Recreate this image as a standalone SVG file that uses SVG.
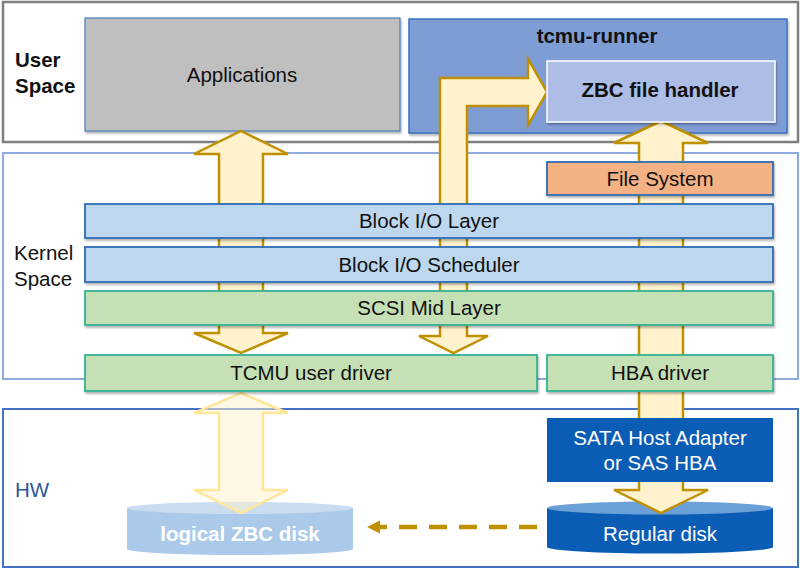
<svg xmlns="http://www.w3.org/2000/svg" width="800" height="570" viewBox="0 0 800 570">
<defs>
<filter id="sh" x="-5%" y="-20%" width="110%" height="150%">
<feDropShadow dx="1" dy="2" stdDeviation="1.2" flood-color="#000" flood-opacity="0.3"/>
</filter>
</defs>
<style>
text{font-family:"Liberation Sans",Arial,Helvetica,sans-serif;font-size:20.5px;fill:#111}
.b{font-weight:bold}
.c{text-anchor:middle}
.w{fill:#fff}
.arrow{fill:#fff2cc;stroke:#bf9000;stroke-width:2.5;stroke-linejoin:miter}
.pale{fill:#fff2cc;fill-opacity:0.5;stroke:#ffe699;stroke-width:2.5}
.blk{fill:#bdd7ee;stroke:#2e6db5;stroke-width:1.8}
.grn{fill:#c5e0b4;stroke:#33b394;stroke-width:1.8}
</style>
<rect x="0" y="0" width="800" height="570" fill="#fff"/>

<g id="user-space">
<rect x="3" y="2" width="795" height="140" fill="#fff" stroke="#7f7f7f" stroke-width="2.5"/>
<text class="b" x="15" y="67">User</text>
<text class="b" x="15" y="93">Space</text>
</g>
<g id="applications">
<rect x="85" y="18" width="315" height="113" fill="#bfbfbf" stroke="#4a7ebb" stroke-width="1.2" filter="url(#sh)"/>
<text class="c" x="242" y="82">Applications</text>
</g>
<g id="tcmu-runner">
<rect x="409" y="19" width="378" height="114" fill="#7f9dd5" stroke="#3a70c0" stroke-width="1.5" filter="url(#sh)"/>
<text class="b c" x="597" y="43">tcmu-runner</text>
</g>

<g id="kernel-space">
<rect x="3" y="153" width="795" height="226" fill="none" stroke="#8faadc" stroke-width="2"/>
<text x="14" y="260">Kernel</text>
<text x="14" y="286">Space</text>
</g>

<g id="hw">
<rect x="3" y="409" width="795" height="158" fill="none" stroke="#4472c4" stroke-width="2"/>
<text x="15" y="497" style="fill:#2f5597">HW</text>
</g>

<g id="logical-zbc-disk">
<path d="M127,508 L127,549 A113,6 0 0 0 353,549 L353,508 Z" fill="#abc9e8"/>
<ellipse cx="240" cy="508" rx="113" ry="6" fill="#c9dcf0"/>
<text class="b c w" x="240" y="541">logical ZBC disk</text>
</g>
<g id="regular-disk">
<path d="M547,508 L547,547 A113,6.5 0 0 0 773,547 L773,508 Z" fill="#0b5cb5"/>
<ellipse cx="660" cy="508" rx="113" ry="6.5" fill="#6a9fd8"/>
<text class="c w" x="660" y="541">Regular disk</text>
</g>

<g id="connectors">
<polygon class="arrow" points="241,131 288,154 263,154 263,333 288,333 241,353 194,333 219,333 219,154 194,154"/>
<polygon class="arrow" points="440,336 440,78 528,78 528,59 547,92 528,125 528,106 467,106 467,336 488,336 453.5,353 419,336"/>
<polygon class="arrow" points="661,121 708,143 683,143 683,490 708,490 661,513 614,490 639,490 639,143 614,143"/>
<polygon class="pale" points="241,393 288,413 263,413 263,490 288,490 241,513 194,490 219,490 219,413 194,413"/>
<line x1="537" y1="527" x2="380" y2="527" stroke="#bf9000" stroke-width="4.5" stroke-dasharray="18 12"/>
<polygon points="367,527 380,520.5 380,533.5" fill="#bf9000"/>
</g>

<g id="zbc-file-handler">
<rect x="547" y="61" width="228" height="61" fill="#adbde5" stroke="#fff" stroke-width="1.5" filter="url(#sh)"/>
<text class="b c" x="660" y="97">ZBC file handler</text>
</g>
<g id="file-system">
<rect x="547" y="162" width="226" height="33" fill="#f4b183" stroke="#2e6db5" stroke-width="1.8" filter="url(#sh)"/>
<text class="c" x="660" y="186">File System</text>
</g>
<g id="block-io-layer">
<rect class="blk" x="85" y="204" width="688" height="34" filter="url(#sh)"/>
<text class="c" x="429" y="228">Block I/O Layer</text>
</g>
<g id="block-io-scheduler">
<rect class="blk" x="85" y="247" width="688" height="35" filter="url(#sh)"/>
<text class="c" x="429" y="272">Block I/O Scheduler</text>
</g>
<g id="scsi-mid-layer">
<rect class="grn" x="85" y="291" width="688" height="34" filter="url(#sh)"/>
<text class="c" x="429" y="315">SCSI Mid Layer</text>
</g>
<g id="tcmu-user-driver">
<rect class="grn" x="85" y="355" width="452" height="36" filter="url(#sh)"/>
<text class="c" x="311" y="380">TCMU user driver</text>
</g>
<g id="hba-driver">
<rect class="grn" x="547" y="355" width="226" height="36" filter="url(#sh)"/>
<text class="c" x="660" y="380">HBA driver</text>
</g>
<g id="sata-host-adapter">
<rect x="547" y="418" width="226" height="64" fill="#0b5cb5"/>
<text class="c w" x="660" y="445">SATA Host Adapter</text>
<text class="c w" x="660" y="470">or SAS HBA</text>
</g>
</svg>
